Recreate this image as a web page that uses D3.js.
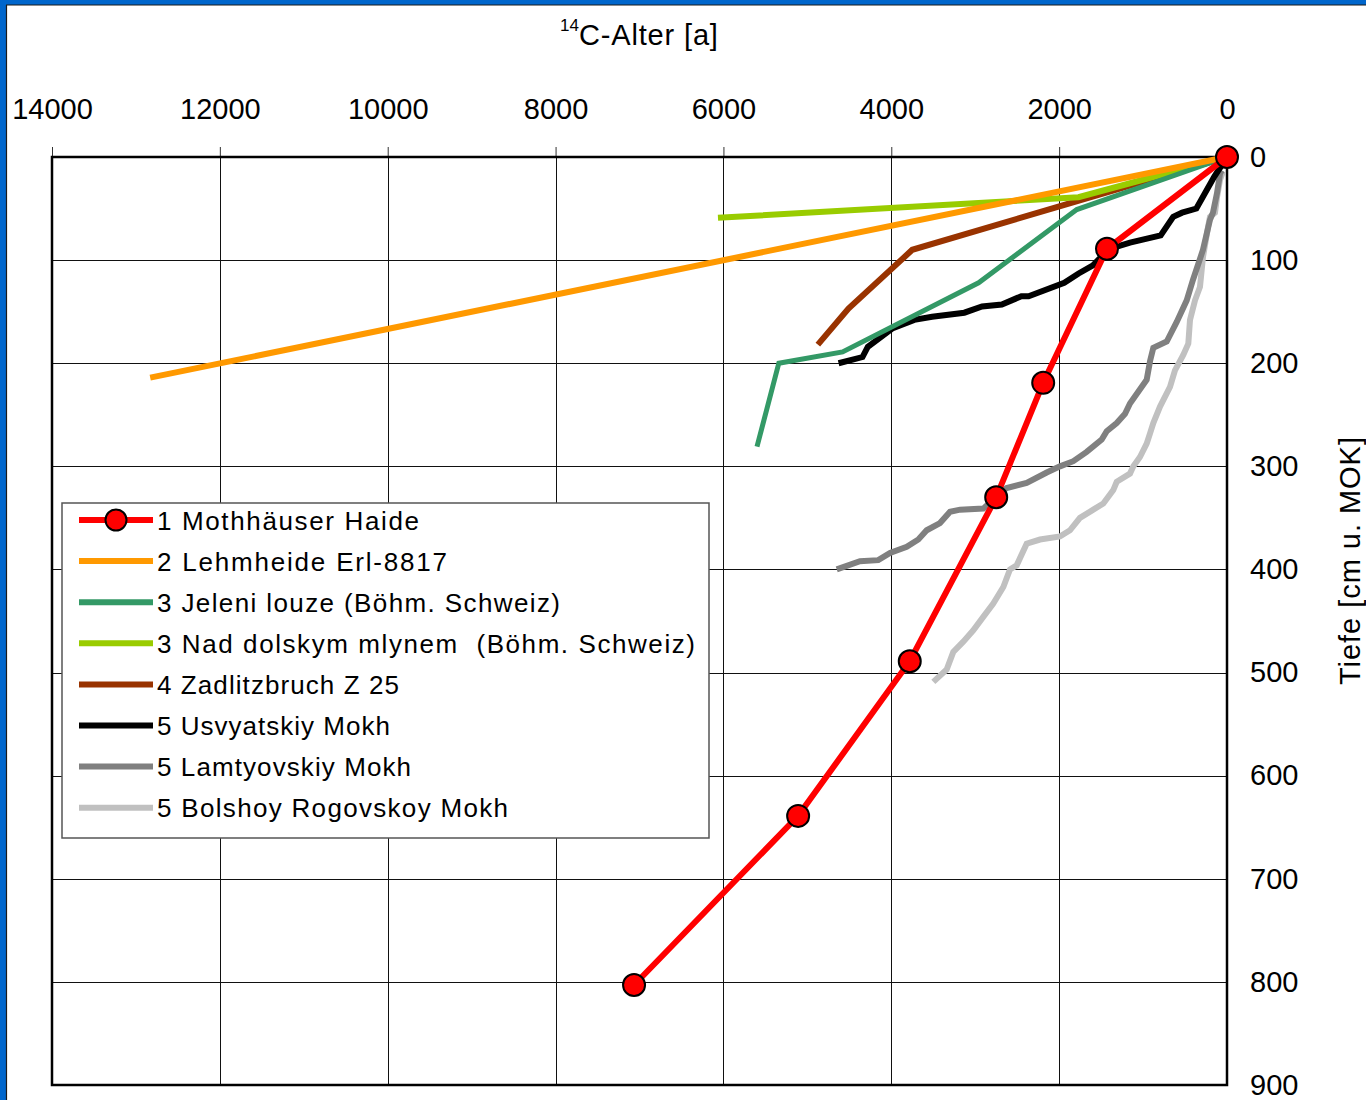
<!DOCTYPE html>
<html>
<head>
<meta charset="utf-8">
<script src="https://cdn.jsdelivr.net/npm/d3@7"></script>
<style>
  html, body { margin: 0; padding: 0; background: #fff; }
  svg { display: block; font-family: "Liberation Sans", Arial, sans-serif; }
</style>
</head>
<body>
<svg id="chart" width="1366" height="1100"></svg>
<script>
// Tick values
const ageTicks = [14000, 12000, 10000, 8000, 6000, 4000, 2000, 0];
const depthTicks = [0, 100, 200, 300, 400, 500, 600, 700, 800, 900];

// Profiles: [14C age in years, depth in cm below surface]
const mothhaeuserHaide = [[0, 0], [1430, 89], [2190, 219], [2750, 330], [3780, 489], [5110, 639], [7065, 803]];
const lehmheide = [[0, 0], [12830, 214]];
const jeleniLouze = [[0, 0], [1790, 51], [2960, 122], [4580, 189], [5340, 200], [5600, 281]];
const nadDolskym = [[0, 0], [1770, 39], [6065, 59]];
const zadlitzbruch = [[0, 0], [3750, 90], [4510, 147], [4875, 182]];
const usvyatskiy = [[0, 0], [151, 19], [365, 50], [535, 54], [641, 58], [790, 76], [1156, 83], [1311, 87],
  [1430, 89], [1513, 98], [1597, 105], [1768, 113], [1939, 122], [2364, 135], [2450, 135], [2683, 143],
  [2918, 145], [3130, 151], [3514, 155], [3726, 158], [3981, 166], [4279, 184], [4343, 194], [4628, 200]];
const lamtyovskiy = [[60, 13], [83, 16], [119, 35], [167, 54], [203, 61], [286, 90], [405, 119], [480, 139],
  [599, 160], [718, 179], [878, 185], [917, 198], [957, 216], [1156, 239], [1215, 249], [1314, 258],
  [1433, 266], [1493, 274], [1672, 286], [1831, 295], [1990, 300], [2148, 306], [2387, 316], [2625, 321],
  [2744, 329], [2904, 341], [3181, 342], [3300, 344], [3420, 355], [3578, 362], [3678, 371], [3816, 378],
  [4015, 384], [4155, 391], [4373, 392], [4650, 400]];
const bolshoyRogovskoy = [[48, 14], [83, 22], [119, 39], [143, 54], [203, 58], [226, 68], [286, 97], [322, 126],
  [381, 139], [441, 158], [461, 181], [521, 192], [620, 207], [679, 223], [798, 242], [878, 258],
  [917, 268], [957, 278], [1037, 291], [1116, 300], [1156, 307], [1314, 315], [1355, 323], [1474, 336],
  [1593, 342], [1752, 350], [1871, 362], [1990, 368], [2228, 371], [2387, 375], [2506, 396], [2586, 400],
  [2665, 417], [2785, 433], [2904, 446], [3023, 459], [3142, 470], [3261, 480], [3340, 497], [3499, 509]];

const seriesNames = [
  "1 Mothhäuser Haide",
  "2 Lehmheide Erl-8817",
  "3 Jeleni louze (Böhm. Schweiz)",
  "3 Nad dolskym mlynem\u00A0\u00A0(Böhm. Schweiz)",
  "4 Zadlitzbruch Z 25",
  "5 Usvyatskiy Mokh",
  "5 Lamtyovskiy Mokh",
  "5 Bolshoy Rogovskoy Mokh"
];
const seriesData = [mothhaeuserHaide, lehmheide, jeleniLouze, nadDolskym, zadlitzbruch, usvyatskiy, lamtyovskiy, bolshoyRogovskoy];
const seriesColors = ["#FF0000", "#FF9900", "#339966", "#99CC00", "#993300", "#000000", "#808080", "#C0C0C0"];
const legendTextWidths = [262, 290, 403, 538, 242, 233, 254, 351];

const svg = d3.select("#chart");
const W = 1366, H = 1100;
const plot = { left: 52, right: 1227, top: 157, bottom: 1085 };

svg.append("rect").attr("width", W).attr("height", H).attr("fill", "#fff");

// window frame strips
svg.append("rect").attr("x", 0).attr("y", 0).attr("width", W).attr("height", 5).attr("fill", "#0066CC");
svg.append("rect").attr("x", 0).attr("y", 0).attr("width", 6).attr("height", H).attr("fill", "#0066CC");
svg.append("line").attr("x1", 6).attr("x2", W).attr("y1", 5).attr("y2", 5).attr("stroke", "#1a1a1a").attr("stroke-width", 1.2);
svg.append("line").attr("x1", 6.5).attr("x2", 6.5).attr("y1", 5).attr("y2", H).attr("stroke", "#1a1a1a").attr("stroke-width", 1.2);

const x = d3.scaleLinear().domain([14000, 0]).range([plot.left, plot.right]);
const y = d3.scaleLinear().domain([0, 900]).range([plot.top, plot.bottom]);

// gridlines
const grid = svg.append("g").attr("stroke", "#111").attr("stroke-width", 1);
grid.selectAll("line.h").data(depthTicks.filter(d => d > 0 && d < 900)).join("line")
  .attr("x1", plot.left).attr("x2", plot.right)
  .attr("y1", d => Math.round(y(d)) + 0.5).attr("y2", d => Math.round(y(d)) + 0.5);
grid.selectAll("line.v").data(ageTicks.filter(d => d > 0 && d < 14000)).join("line")
  .attr("y1", plot.top).attr("y2", plot.bottom)
  .attr("x1", d => Math.round(x(d)) + 0.5).attr("x2", d => Math.round(x(d)) + 0.5);

// top age axis
const xAxis = svg.append("g").attr("transform", `translate(0,${plot.top})`)
  .call(d3.axisTop(x).tickValues(ageTicks).tickSizeInner(10).tickSizeOuter(0).tickPadding(28).tickFormat(d3.format("d")));
xAxis.select(".domain").remove();
xAxis.selectAll(".tick line").attr("stroke", "#333").attr("stroke-width", 1);
xAxis.selectAll(".tick text").attr("font-size", 29).attr("fill", "#000")
  .attr("font-family", "'Liberation Sans', Arial, sans-serif");

// right depth axis
const yAxis = svg.append("g").attr("transform", `translate(${plot.right},0)`)
  .call(d3.axisRight(y).tickValues(depthTicks).tickSize(0).tickPadding(23).tickFormat(d3.format("d")));
yAxis.select(".domain").remove();
yAxis.selectAll(".tick text").attr("font-size", 29).attr("fill", "#000")
  .attr("font-family", "'Liberation Sans', Arial, sans-serif");

// plot frame
svg.append("rect").attr("x", plot.left).attr("y", plot.top)
  .attr("width", plot.right - plot.left).attr("height", plot.bottom - plot.top)
  .attr("fill", "none").attr("stroke", "#000").attr("stroke-width", 2.5);

// profile lines, first series drawn last so it sits on top
const line = d3.line().x(d => x(d[0])).y(d => y(d[1]));
const order = d3.range(seriesData.length).reverse();
const lines = svg.append("g");
order.forEach(i => {
  lines.append("path").datum(seriesData[i])
    .attr("d", line).attr("fill", "none")
    .attr("stroke", seriesColors[i]).attr("stroke-width", i === 2 ? 5 : 6)
    .attr("stroke-linejoin", "miter").attr("stroke-linecap", "butt");
});

// markers for the dated points of series 1
svg.append("g").selectAll("circle").data(mothhaeuserHaide).join("circle")
  .attr("cx", d => x(d[0])).attr("cy", d => y(d[1])).attr("r", 11)
  .attr("fill", "#FF0000").attr("stroke", "#000").attr("stroke-width", 2);

// axis titles
const title = svg.append("text").attr("x", 560).attr("y", 45).attr("fill", "#000");
title.append("tspan").attr("font-size", 17).attr("dy", -14).text("14");
title.append("tspan").attr("font-size", 29).attr("dy", 14)
  .attr("textLength", 139).attr("lengthAdjust", "spacing").text("C-Alter [a]");

svg.append("text").attr("transform", "translate(1360,561) rotate(-90)")
  .attr("text-anchor", "middle").attr("font-size", 29).attr("fill", "#000")
  .attr("textLength", 248).attr("lengthAdjust", "spacing")
  .text("Tiefe [cm u. MOK]");

// legend
const legend = svg.append("g");
legend.append("rect").attr("x", 62).attr("y", 503).attr("width", 647).attr("height", 335)
  .attr("fill", "#fff").attr("stroke", "#555").attr("stroke-width", 1.5);
seriesNames.forEach((name, i) => {
  const cy = 520 + i * 41.1;
  legend.append("line").attr("x1", 79).attr("x2", 153).attr("y1", cy).attr("y2", cy)
    .attr("stroke", seriesColors[i]).attr("stroke-width", 6);
  if (i === 0) {
    legend.append("circle").attr("cx", 116).attr("cy", cy).attr("r", 10.5)
      .attr("fill", "#FF0000").attr("stroke", "#000").attr("stroke-width", 2);
  }
  legend.append("text").attr("x", 157).attr("y", cy + 9.5)
    .attr("font-size", 26).attr("fill", "#000")
    .attr("textLength", legendTextWidths[i]).attr("lengthAdjust", "spacing")
    .text(name);
});
</script>
</body>
</html>
